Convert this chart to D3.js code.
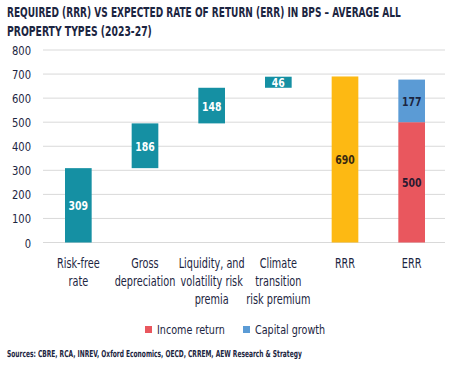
<!DOCTYPE html>
<html><head><meta charset="utf-8">
<script src="https://cdn.jsdelivr.net/npm/d3@7"></script>
<style>
body{margin:0;background:#fff;}
text{font-family:"DejaVu Sans",sans-serif;}
</style></head>
<body><svg id="c" width="454" height="365"></svg>
<script>
const categories = [["Risk-free","rate"],["Gross","depreciation"],["Liquidity, and","volatility risk","premia"],["Climate","transition","risk premium"],["RRR"],["ERR"]];
const stepValues = [309,186,148,46];
const rrrValue = 690;
const incomeReturn = 500;
const capitalGrowth = 177;
const yTicks = [0,100,200,300,400,500,600,700,800];
const legendLabels = ["Income return","Capital growth"];

const teal="#1590a3", yellow="#fdb913", red="#e9575e", blue="#5b9bd5", navy="#1c2541";
const svg=d3.select("#c");
const x=d3.scaleBand().domain(d3.range(6)).range([45,445]).paddingInner(0.6).paddingOuter(0.3);
const y=d3.scaleLinear().domain([0,800]).range([242.5,50]);

function cText(px,py,txt,o){
  const g=svg.append("g");
  const t=g.append("text").attr("x",0).attr("y",0).attr("fill",o.fill||navy).attr("font-size",o.size)
    .attr("font-weight",o.bold?"bold":"normal").attr("text-anchor",o.anchor||"start").text(txt);
  let sx=o.sx||1;
  if(o.width){ sx=o.width/t.node().getComputedTextLength(); }
  g.attr("transform",`translate(${px},${py}) scale(${sx},1)`);
  return g;
}

cText(7,17,"REQUIRED (RRR) VS EXPECTED RATE OF RETURN (ERR) IN BPS – AVERAGE ALL",{size:14,bold:true,width:394});
cText(7,36,"PROPERTY TYPES (2023-27)",{size:14,bold:true,width:145});

svg.append("g").selectAll("line").data(yTicks).join("line")
 .attr("x1",43).attr("x2",445).attr("y1",d=>y(d)).attr("y2",d=>y(d)).attr("stroke","#d9d9d9").attr("stroke-width",1);
const ya=svg.append("g").attr("transform","translate(43,0)").call(d3.axisLeft(y).tickValues(yTicks).tickSize(0).tickPadding(12));
ya.select(".domain").remove();
ya.selectAll(".tick text").attr("font-size",12.5).attr("fill",navy).attr("dy","0.36em")
  .style("font-family","'DejaVu Sans',sans-serif")
  .attr("transform","translate(-12,0) scale(0.8,1) translate(12,0)");

let cum=0;
const steps=stepValues.map((v,i)=>{const s={i,v,y0:cum,y1:cum+v};cum+=v;return s;});
const bw=x.bandwidth();
function lab(xx,yy,txt,fill){ cText(xx,yy,String(txt),{size:13,bold:true,anchor:"middle",fill,sx:0.72}); }
steps.forEach(s=>{
  svg.append("rect").attr("x",x(s.i)).attr("width",bw).attr("y",y(s.y1)).attr("height",y(s.y0)-y(s.y1)).attr("fill",teal);
  lab(x(s.i)+bw/2,(y(s.y0)+y(s.y1))/2+5,s.v,"#fff");
});
svg.append("rect").attr("x",x(4)).attr("width",bw).attr("y",y(rrrValue)).attr("height",y(0)-y(rrrValue)).attr("fill",yellow);
lab(x(4)+bw/2,(y(0)+y(rrrValue))/2+5,rrrValue,"#3a2a10");
svg.append("rect").attr("x",x(5)).attr("width",bw).attr("y",y(incomeReturn)).attr("height",y(0)-y(incomeReturn)).attr("fill",red);
svg.append("rect").attr("x",x(5)).attr("width",bw).attr("y",y(incomeReturn+capitalGrowth)).attr("height",y(incomeReturn)-y(incomeReturn+capitalGrowth)).attr("fill",blue);
lab(x(5)+bw/2,(y(0)+y(incomeReturn))/2+5,incomeReturn,"#2a1a30");
lab(x(5)+bw/2,(y(incomeReturn)+y(incomeReturn+capitalGrowth))/2+5,capitalGrowth,navy);

categories.forEach((lines,i)=>{
  lines.forEach((l,j)=>cText(x(i)+bw/2,268+j*18,l,{size:13.5,anchor:"middle",sx:0.72}));
});

const lg=[{c:red,t:legendLabels[0],x:145},{c:blue,t:legendLabels[1],x:243}];
lg.forEach(d=>{
  svg.append("rect").attr("x",d.x).attr("y",326).attr("width",7).attr("height",7).attr("fill",d.c);
  cText(d.x+12,334,d.t,{size:13,sx:0.74});
});

cText(7,357,"Sources: CBRE, RCA, INREV, Oxford Economics, OECD, CRREM, AEW Research & Strategy",{size:9.5,bold:true,width:295});
</script></body></html>
